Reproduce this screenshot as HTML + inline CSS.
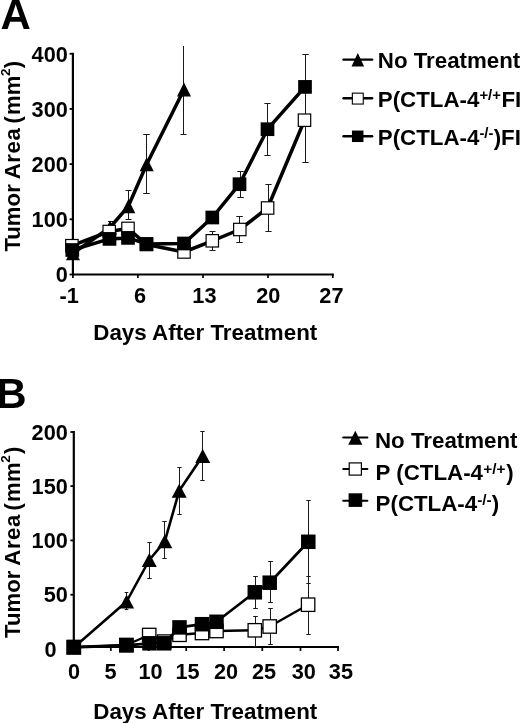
<!DOCTYPE html>
<html><head><meta charset="utf-8"><title>Figure</title>
<style>html,body{margin:0;padding:0;background:#fff;}svg{display:block;}text{fill:#000;}</style>
</head><body>
<svg width="520" height="723" viewBox="0 0 520 723" style="will-change:transform">
<rect x="0" y="0" width="520" height="723" fill="#fff"/>
<text x="0.40" y="29.00" font-size="42" text-anchor="start" font-family="Liberation Sans, sans-serif" font-weight="bold" >A</text>
<text x="-3.70" y="408.30" font-size="42" text-anchor="start" font-family="Liberation Sans, sans-serif" font-weight="bold" >B</text>
<line x1="72.90" y1="52.80" x2="72.90" y2="275.50" stroke="#000" stroke-width="2.2" stroke-linecap="butt"/>
<line x1="71.90" y1="274.50" x2="333.80" y2="274.50" stroke="#000" stroke-width="2.1" stroke-linecap="butt"/>
<line x1="69.60" y1="53.75" x2="72.90" y2="53.75" stroke="#000" stroke-width="1.8" stroke-linecap="butt"/>
<line x1="69.60" y1="108.90" x2="72.90" y2="108.90" stroke="#000" stroke-width="1.8" stroke-linecap="butt"/>
<line x1="69.60" y1="164.10" x2="72.90" y2="164.10" stroke="#000" stroke-width="1.8" stroke-linecap="butt"/>
<line x1="69.60" y1="219.30" x2="72.90" y2="219.30" stroke="#000" stroke-width="1.8" stroke-linecap="butt"/>
<line x1="69.60" y1="274.50" x2="72.90" y2="274.50" stroke="#000" stroke-width="1.8" stroke-linecap="butt"/>
<line x1="72.90" y1="274.50" x2="72.90" y2="278.00" stroke="#000" stroke-width="1.7" stroke-linecap="butt"/>
<line x1="137.90" y1="274.50" x2="137.90" y2="278.00" stroke="#000" stroke-width="1.7" stroke-linecap="butt"/>
<line x1="203.00" y1="274.50" x2="203.00" y2="278.00" stroke="#000" stroke-width="1.7" stroke-linecap="butt"/>
<line x1="268.00" y1="274.50" x2="268.00" y2="278.00" stroke="#000" stroke-width="1.7" stroke-linecap="butt"/>
<line x1="332.80" y1="274.50" x2="332.80" y2="278.00" stroke="#000" stroke-width="1.7" stroke-linecap="butt"/>
<text x="67.80" y="61.50" font-size="21.7" text-anchor="end" font-family="Liberation Sans, sans-serif" font-weight="bold" >400</text>
<text x="67.80" y="116.65" font-size="21.7" text-anchor="end" font-family="Liberation Sans, sans-serif" font-weight="bold" >300</text>
<text x="67.80" y="171.85" font-size="21.7" text-anchor="end" font-family="Liberation Sans, sans-serif" font-weight="bold" >200</text>
<text x="67.80" y="227.05" font-size="21.7" text-anchor="end" font-family="Liberation Sans, sans-serif" font-weight="bold" >100</text>
<text x="67.80" y="282.25" font-size="21.7" text-anchor="end" font-family="Liberation Sans, sans-serif" font-weight="bold" >0</text>
<text x="69.20" y="303.00" font-size="21.7" text-anchor="middle" font-family="Liberation Sans, sans-serif" font-weight="bold" >-1</text>
<text x="140.10" y="303.00" font-size="21.7" text-anchor="middle" font-family="Liberation Sans, sans-serif" font-weight="bold" >6</text>
<text x="204.40" y="303.00" font-size="21.7" text-anchor="middle" font-family="Liberation Sans, sans-serif" font-weight="bold" >13</text>
<text x="268.30" y="303.00" font-size="21.7" text-anchor="middle" font-family="Liberation Sans, sans-serif" font-weight="bold" >20</text>
<text x="331.40" y="303.00" font-size="21.7" text-anchor="middle" font-family="Liberation Sans, sans-serif" font-weight="bold" >27</text>
<text x="93.30" y="340.40" font-size="22.35" text-anchor="start" font-family="Liberation Sans, sans-serif" font-weight="bold" >Days After Treatment</text>
<text transform="translate(19.8,251.6) rotate(-90)" font-size="22.2" font-family="Liberation Sans, sans-serif" font-weight="bold">Tumor <tspan dx="-1.2" letter-spacing="0.55">Area</tspan><tspan dx="-2.0"> (</tspan><tspan dx="1.1">mm</tspan><tspan font-size="13.5" dy="-9.4" dx="-0.3">2</tspan><tspan dy="9.4">)</tspan></text>
<line x1="110.50" y1="221.00" x2="110.50" y2="235.00" stroke="#1a1a1a" stroke-width="1" stroke-linecap="butt"/>
<line x1="108.00" y1="221.50" x2="113.00" y2="221.50" stroke="#1a1a1a" stroke-width="1" stroke-linecap="butt"/>
<line x1="108.00" y1="234.50" x2="113.00" y2="234.50" stroke="#1a1a1a" stroke-width="1" stroke-linecap="butt"/>
<line x1="128.50" y1="190.00" x2="128.50" y2="220.00" stroke="#1a1a1a" stroke-width="1" stroke-linecap="butt"/>
<line x1="125.50" y1="190.50" x2="131.50" y2="190.50" stroke="#1a1a1a" stroke-width="1" stroke-linecap="butt"/>
<line x1="125.50" y1="219.50" x2="131.50" y2="219.50" stroke="#1a1a1a" stroke-width="1" stroke-linecap="butt"/>
<line x1="146.50" y1="134.00" x2="146.50" y2="194.00" stroke="#1a1a1a" stroke-width="1" stroke-linecap="butt"/>
<line x1="143.25" y1="134.50" x2="149.75" y2="134.50" stroke="#1a1a1a" stroke-width="1" stroke-linecap="butt"/>
<line x1="143.25" y1="193.50" x2="149.75" y2="193.50" stroke="#1a1a1a" stroke-width="1" stroke-linecap="butt"/>
<line x1="183.50" y1="46.00" x2="183.50" y2="135.00" stroke="#1a1a1a" stroke-width="1" stroke-linecap="butt"/>
<line x1="180.50" y1="134.50" x2="186.50" y2="134.50" stroke="#1a1a1a" stroke-width="1" stroke-linecap="butt"/>
<line x1="212.50" y1="231.00" x2="212.50" y2="251.00" stroke="#1a1a1a" stroke-width="1" stroke-linecap="butt"/>
<line x1="209.50" y1="231.50" x2="215.50" y2="231.50" stroke="#1a1a1a" stroke-width="1" stroke-linecap="butt"/>
<line x1="209.50" y1="250.50" x2="215.50" y2="250.50" stroke="#1a1a1a" stroke-width="1" stroke-linecap="butt"/>
<line x1="239.50" y1="216.00" x2="239.50" y2="243.00" stroke="#1a1a1a" stroke-width="1" stroke-linecap="butt"/>
<line x1="236.25" y1="216.50" x2="242.75" y2="216.50" stroke="#1a1a1a" stroke-width="1" stroke-linecap="butt"/>
<line x1="236.25" y1="242.50" x2="242.75" y2="242.50" stroke="#1a1a1a" stroke-width="1" stroke-linecap="butt"/>
<line x1="268.50" y1="184.00" x2="268.50" y2="232.00" stroke="#1a1a1a" stroke-width="1" stroke-linecap="butt"/>
<line x1="265.40" y1="184.50" x2="271.60" y2="184.50" stroke="#1a1a1a" stroke-width="1" stroke-linecap="butt"/>
<line x1="265.40" y1="231.50" x2="271.60" y2="231.50" stroke="#1a1a1a" stroke-width="1" stroke-linecap="butt"/>
<line x1="305.50" y1="81.00" x2="305.50" y2="163.00" stroke="#1a1a1a" stroke-width="1" stroke-linecap="butt"/>
<line x1="302.30" y1="162.50" x2="308.70" y2="162.50" stroke="#1a1a1a" stroke-width="1" stroke-linecap="butt"/>
<line x1="240.50" y1="171.00" x2="240.50" y2="198.00" stroke="#1a1a1a" stroke-width="1" stroke-linecap="butt"/>
<line x1="237.25" y1="171.50" x2="243.75" y2="171.50" stroke="#1a1a1a" stroke-width="1" stroke-linecap="butt"/>
<line x1="237.25" y1="197.50" x2="243.75" y2="197.50" stroke="#1a1a1a" stroke-width="1" stroke-linecap="butt"/>
<line x1="267.50" y1="103.00" x2="267.50" y2="156.00" stroke="#1a1a1a" stroke-width="1" stroke-linecap="butt"/>
<line x1="264.40" y1="103.50" x2="270.60" y2="103.50" stroke="#1a1a1a" stroke-width="1" stroke-linecap="butt"/>
<line x1="264.40" y1="155.50" x2="270.60" y2="155.50" stroke="#1a1a1a" stroke-width="1" stroke-linecap="butt"/>
<line x1="305.50" y1="54.00" x2="305.50" y2="120.00" stroke="#1a1a1a" stroke-width="1" stroke-linecap="butt"/>
<line x1="302.30" y1="54.50" x2="308.70" y2="54.50" stroke="#1a1a1a" stroke-width="1" stroke-linecap="butt"/>
<line x1="302.30" y1="119.50" x2="308.70" y2="119.50" stroke="#1a1a1a" stroke-width="1" stroke-linecap="butt"/>
<polyline points="73.00,253.20 110.00,227.50 128.30,206.30 146.70,164.20 184.00,89.50" fill="none" stroke="#000" stroke-width="3.5" stroke-linejoin="round"/>
<polygon points="73.00,246.20 80.00,260.20 66.00,260.20" fill="#000"/>
<polygon points="110.00,220.50 117.00,234.50 103.00,234.50" fill="#000"/>
<polygon points="128.30,199.30 135.30,213.30 121.30,213.30" fill="#000"/>
<polygon points="146.70,157.20 153.70,171.20 139.70,171.20" fill="#000"/>
<polygon points="184.00,82.50 191.00,96.50 177.00,96.50" fill="#000"/>
<polyline points="71.90,245.70 109.20,231.50 128.00,228.40 146.50,244.50 184.00,252.00 212.30,240.80 239.80,229.50 267.60,208.00 304.50,120.20" fill="none" stroke="#000" stroke-width="3.5" stroke-linejoin="round"/>
<rect x="65.70" y="239.50" width="12.40" height="12.40" fill="#fff" stroke="#000" stroke-width="1.2"/>
<rect x="103.00" y="225.30" width="12.40" height="12.40" fill="#fff" stroke="#000" stroke-width="1.2"/>
<rect x="121.80" y="222.20" width="12.40" height="12.40" fill="#fff" stroke="#000" stroke-width="1.2"/>
<rect x="140.30" y="238.30" width="12.40" height="12.40" fill="#fff" stroke="#000" stroke-width="1.2"/>
<rect x="177.80" y="245.80" width="12.40" height="12.40" fill="#fff" stroke="#000" stroke-width="1.2"/>
<rect x="206.10" y="234.60" width="12.40" height="12.40" fill="#fff" stroke="#000" stroke-width="1.2"/>
<rect x="233.60" y="223.30" width="12.40" height="12.40" fill="#fff" stroke="#000" stroke-width="1.2"/>
<rect x="261.40" y="201.80" width="12.40" height="12.40" fill="#fff" stroke="#000" stroke-width="1.2"/>
<rect x="298.30" y="114.00" width="12.40" height="12.40" fill="#fff" stroke="#000" stroke-width="1.2"/>
<polyline points="72.30,250.00 109.50,238.90 128.00,237.90 146.40,243.90 184.00,243.50 212.30,217.50 239.50,184.20 267.50,129.20 305.00,86.90" fill="none" stroke="#000" stroke-width="3.5" stroke-linejoin="round"/>
<rect x="65.45" y="243.15" width="13.7" height="13.7" fill="#000"/>
<rect x="102.65" y="232.05" width="13.7" height="13.7" fill="#000"/>
<rect x="121.15" y="231.05" width="13.7" height="13.7" fill="#000"/>
<rect x="139.55" y="237.05" width="13.7" height="13.7" fill="#000"/>
<rect x="177.15" y="236.65" width="13.7" height="13.7" fill="#000"/>
<rect x="205.45" y="210.65" width="13.7" height="13.7" fill="#000"/>
<rect x="232.65" y="177.35" width="13.7" height="13.7" fill="#000"/>
<rect x="260.65" y="122.35" width="13.7" height="13.7" fill="#000"/>
<rect x="298.15" y="80.05" width="13.7" height="13.7" fill="#000"/>
<line x1="343.50" y1="59.60" x2="372.10" y2="59.60" stroke="#000" stroke-width="2.4" stroke-linecap="round"/>
<line x1="343.50" y1="98.20" x2="372.10" y2="98.20" stroke="#000" stroke-width="2.4" stroke-linecap="round"/>
<line x1="343.50" y1="136.20" x2="372.10" y2="136.20" stroke="#000" stroke-width="2.4" stroke-linecap="round"/>
<polygon points="357.80,53.00 364.10,66.60 351.50,66.60" fill="#000"/>
<rect x="352.35" y="93.15" width="10.90" height="10.90" fill="#fff" stroke="#000" stroke-width="1.1"/>
<rect x="351.95" y="130.55" width="11.5" height="11.5" fill="#000"/>
<text x="377.80" y="67.70" font-size="22.3" text-anchor="start" font-family="Liberation Sans, sans-serif" font-weight="bold" >No Treatment</text>
<text x="377.80" y="106.80" font-size="22.3" text-anchor="start" font-family="Liberation Sans, sans-serif" font-weight="bold" >P(CTLA-4<tspan font-size="14.8" dy="-7">+/+</tspan><tspan dy="7" dx="0.6">FI</tspan></text>
<text x="377.80" y="144.60" font-size="22.3" text-anchor="start" font-family="Liberation Sans, sans-serif" font-weight="bold" >P(CTLA-4<tspan font-size="14.8" dy="-7">-/-</tspan><tspan dy="7" dx="0.3">)FI</tspan></text>
<line x1="73.80" y1="431.00" x2="73.80" y2="648.00" stroke="#000" stroke-width="2.2" stroke-linecap="butt"/>
<line x1="72.80" y1="647.00" x2="339.00" y2="647.00" stroke="#000" stroke-width="2.2" stroke-linecap="butt"/>
<line x1="70.40" y1="432.00" x2="73.80" y2="432.00" stroke="#000" stroke-width="1.8" stroke-linecap="butt"/>
<line x1="70.40" y1="486.10" x2="73.80" y2="486.10" stroke="#000" stroke-width="1.8" stroke-linecap="butt"/>
<line x1="70.40" y1="540.40" x2="73.80" y2="540.40" stroke="#000" stroke-width="1.8" stroke-linecap="butt"/>
<line x1="70.40" y1="594.70" x2="73.80" y2="594.70" stroke="#000" stroke-width="1.8" stroke-linecap="butt"/>
<line x1="70.40" y1="647.00" x2="73.80" y2="647.00" stroke="#000" stroke-width="1.8" stroke-linecap="butt"/>
<line x1="73.80" y1="647.00" x2="73.80" y2="651.00" stroke="#000" stroke-width="1.7" stroke-linecap="butt"/>
<line x1="110.80" y1="647.00" x2="110.80" y2="651.00" stroke="#000" stroke-width="1.7" stroke-linecap="butt"/>
<line x1="148.60" y1="647.00" x2="148.60" y2="651.00" stroke="#000" stroke-width="1.7" stroke-linecap="butt"/>
<line x1="186.20" y1="647.00" x2="186.20" y2="651.00" stroke="#000" stroke-width="1.7" stroke-linecap="butt"/>
<line x1="224.10" y1="647.00" x2="224.10" y2="651.00" stroke="#000" stroke-width="1.7" stroke-linecap="butt"/>
<line x1="262.30" y1="647.00" x2="262.30" y2="651.00" stroke="#000" stroke-width="1.7" stroke-linecap="butt"/>
<line x1="300.50" y1="647.00" x2="300.50" y2="651.00" stroke="#000" stroke-width="1.7" stroke-linecap="butt"/>
<line x1="338.00" y1="647.00" x2="338.00" y2="651.00" stroke="#000" stroke-width="1.7" stroke-linecap="butt"/>
<text x="67.80" y="439.75" font-size="21.7" text-anchor="end" font-family="Liberation Sans, sans-serif" font-weight="bold" >200</text>
<text x="67.80" y="493.85" font-size="21.7" text-anchor="end" font-family="Liberation Sans, sans-serif" font-weight="bold" >150</text>
<text x="67.80" y="548.15" font-size="21.7" text-anchor="end" font-family="Liberation Sans, sans-serif" font-weight="bold" >100</text>
<text x="67.80" y="602.45" font-size="21.7" text-anchor="end" font-family="Liberation Sans, sans-serif" font-weight="bold" >50</text>
<text x="56.50" y="656.60" font-size="21.7" text-anchor="end" font-family="Liberation Sans, sans-serif" font-weight="bold" >0</text>
<text x="74.00" y="678.60" font-size="21.7" text-anchor="middle" font-family="Liberation Sans, sans-serif" font-weight="bold" >0</text>
<text x="110.50" y="678.60" font-size="21.7" text-anchor="middle" font-family="Liberation Sans, sans-serif" font-weight="bold" >5</text>
<text x="150.50" y="678.60" font-size="21.7" text-anchor="middle" font-family="Liberation Sans, sans-serif" font-weight="bold" >10</text>
<text x="187.60" y="678.60" font-size="21.7" text-anchor="middle" font-family="Liberation Sans, sans-serif" font-weight="bold" >15</text>
<text x="226.00" y="678.60" font-size="21.7" text-anchor="middle" font-family="Liberation Sans, sans-serif" font-weight="bold" >20</text>
<text x="264.00" y="678.60" font-size="21.7" text-anchor="middle" font-family="Liberation Sans, sans-serif" font-weight="bold" >25</text>
<text x="303.70" y="678.60" font-size="21.7" text-anchor="middle" font-family="Liberation Sans, sans-serif" font-weight="bold" >30</text>
<text x="340.90" y="678.60" font-size="21.7" text-anchor="middle" font-family="Liberation Sans, sans-serif" font-weight="bold" >35</text>
<text x="93.30" y="718.60" font-size="22.35" text-anchor="start" font-family="Liberation Sans, sans-serif" font-weight="bold" >Days After Treatment</text>
<text transform="translate(19.8,638) rotate(-90)" font-size="22.2" font-family="Liberation Sans, sans-serif" font-weight="bold">Tumor <tspan dx="-1.2" letter-spacing="0.55">Area</tspan><tspan dx="-2.5"> (</tspan><tspan dx="1.1" letter-spacing="0.2">mm</tspan><tspan font-size="13.5" dy="-9.4" dx="-0.6">2</tspan><tspan dy="9.4" dx="1.2">)</tspan></text>
<line x1="126.50" y1="592.00" x2="126.50" y2="610.00" stroke="#1a1a1a" stroke-width="1" stroke-linecap="butt"/>
<line x1="124.70" y1="592.50" x2="128.30" y2="592.50" stroke="#1a1a1a" stroke-width="1" stroke-linecap="butt"/>
<line x1="124.70" y1="609.50" x2="128.30" y2="609.50" stroke="#1a1a1a" stroke-width="1" stroke-linecap="butt"/>
<line x1="149.50" y1="542.00" x2="149.50" y2="579.00" stroke="#1a1a1a" stroke-width="1" stroke-linecap="butt"/>
<line x1="147.30" y1="542.50" x2="151.70" y2="542.50" stroke="#1a1a1a" stroke-width="1" stroke-linecap="butt"/>
<line x1="147.30" y1="578.50" x2="151.70" y2="578.50" stroke="#1a1a1a" stroke-width="1" stroke-linecap="butt"/>
<line x1="164.50" y1="521.00" x2="164.50" y2="559.00" stroke="#1a1a1a" stroke-width="1" stroke-linecap="butt"/>
<line x1="162.30" y1="521.50" x2="166.70" y2="521.50" stroke="#1a1a1a" stroke-width="1" stroke-linecap="butt"/>
<line x1="162.30" y1="558.50" x2="166.70" y2="558.50" stroke="#1a1a1a" stroke-width="1" stroke-linecap="butt"/>
<line x1="179.50" y1="467.00" x2="179.50" y2="515.00" stroke="#1a1a1a" stroke-width="1" stroke-linecap="butt"/>
<line x1="177.30" y1="467.50" x2="181.70" y2="467.50" stroke="#1a1a1a" stroke-width="1" stroke-linecap="butt"/>
<line x1="177.30" y1="514.50" x2="181.70" y2="514.50" stroke="#1a1a1a" stroke-width="1" stroke-linecap="butt"/>
<line x1="202.50" y1="431.00" x2="202.50" y2="481.00" stroke="#1a1a1a" stroke-width="1" stroke-linecap="butt"/>
<line x1="200.30" y1="431.50" x2="204.70" y2="431.50" stroke="#1a1a1a" stroke-width="1" stroke-linecap="butt"/>
<line x1="200.30" y1="480.50" x2="204.70" y2="480.50" stroke="#1a1a1a" stroke-width="1" stroke-linecap="butt"/>
<line x1="255.50" y1="616.00" x2="255.50" y2="647.00" stroke="#1a1a1a" stroke-width="1" stroke-linecap="butt"/>
<line x1="253.20" y1="616.50" x2="257.80" y2="616.50" stroke="#1a1a1a" stroke-width="1" stroke-linecap="butt"/>
<line x1="253.20" y1="646.50" x2="257.80" y2="646.50" stroke="#1a1a1a" stroke-width="1" stroke-linecap="butt"/>
<line x1="270.50" y1="608.00" x2="270.50" y2="645.00" stroke="#1a1a1a" stroke-width="1" stroke-linecap="butt"/>
<line x1="268.20" y1="608.50" x2="272.80" y2="608.50" stroke="#1a1a1a" stroke-width="1" stroke-linecap="butt"/>
<line x1="268.20" y1="644.50" x2="272.80" y2="644.50" stroke="#1a1a1a" stroke-width="1" stroke-linecap="butt"/>
<line x1="308.50" y1="576.00" x2="308.50" y2="635.00" stroke="#1a1a1a" stroke-width="1" stroke-linecap="butt"/>
<line x1="306.30" y1="576.50" x2="310.70" y2="576.50" stroke="#1a1a1a" stroke-width="1" stroke-linecap="butt"/>
<line x1="306.30" y1="634.50" x2="310.70" y2="634.50" stroke="#1a1a1a" stroke-width="1" stroke-linecap="butt"/>
<line x1="255.50" y1="576.00" x2="255.50" y2="609.00" stroke="#1a1a1a" stroke-width="1" stroke-linecap="butt"/>
<line x1="253.20" y1="576.50" x2="257.80" y2="576.50" stroke="#1a1a1a" stroke-width="1" stroke-linecap="butt"/>
<line x1="253.20" y1="608.50" x2="257.80" y2="608.50" stroke="#1a1a1a" stroke-width="1" stroke-linecap="butt"/>
<line x1="270.50" y1="561.00" x2="270.50" y2="603.00" stroke="#1a1a1a" stroke-width="1" stroke-linecap="butt"/>
<line x1="268.10" y1="561.50" x2="272.90" y2="561.50" stroke="#1a1a1a" stroke-width="1" stroke-linecap="butt"/>
<line x1="268.10" y1="602.50" x2="272.90" y2="602.50" stroke="#1a1a1a" stroke-width="1" stroke-linecap="butt"/>
<line x1="308.50" y1="500.00" x2="308.50" y2="584.00" stroke="#1a1a1a" stroke-width="1" stroke-linecap="butt"/>
<line x1="306.30" y1="500.50" x2="310.70" y2="500.50" stroke="#1a1a1a" stroke-width="1" stroke-linecap="butt"/>
<line x1="306.30" y1="583.50" x2="310.70" y2="583.50" stroke="#1a1a1a" stroke-width="1" stroke-linecap="butt"/>
<polyline points="73.80,647.50 126.60,601.50 149.30,560.00 164.80,541.30 179.20,490.80 202.70,456.00" fill="none" stroke="#000" stroke-width="2.6" stroke-linejoin="round"/>
<polygon points="73.80,640.50 81.30,654.50 66.30,654.50" fill="#000"/>
<polygon points="126.60,594.50 134.10,608.50 119.10,608.50" fill="#000"/>
<polygon points="149.30,553.00 156.80,567.00 141.80,567.00" fill="#000"/>
<polygon points="164.80,534.30 172.30,548.30 157.30,548.30" fill="#000"/>
<polygon points="179.20,483.80 186.70,497.80 171.70,497.80" fill="#000"/>
<polygon points="202.70,449.00 210.20,463.00 195.20,463.00" fill="#000"/>
<polyline points="73.80,647.00 126.40,645.00 149.20,635.00 164.20,641.60 179.50,634.80 202.00,633.00 216.50,631.00 254.80,630.30 269.70,626.50 308.10,604.70" fill="none" stroke="#000" stroke-width="2.4" stroke-linejoin="round"/>
<rect x="67.10" y="640.30" width="13.40" height="13.40" fill="#fff" stroke="#000" stroke-width="1.3"/>
<rect x="119.70" y="638.30" width="13.40" height="13.40" fill="#fff" stroke="#000" stroke-width="1.3"/>
<rect x="142.50" y="628.30" width="13.40" height="13.40" fill="#fff" stroke="#000" stroke-width="1.3"/>
<rect x="157.50" y="634.90" width="13.40" height="13.40" fill="#fff" stroke="#000" stroke-width="1.3"/>
<rect x="172.80" y="628.10" width="13.40" height="13.40" fill="#fff" stroke="#000" stroke-width="1.3"/>
<rect x="195.30" y="626.30" width="13.40" height="13.40" fill="#fff" stroke="#000" stroke-width="1.3"/>
<rect x="209.80" y="624.30" width="13.40" height="13.40" fill="#fff" stroke="#000" stroke-width="1.3"/>
<rect x="248.10" y="623.60" width="13.40" height="13.40" fill="#fff" stroke="#000" stroke-width="1.3"/>
<rect x="263.00" y="619.80" width="13.40" height="13.40" fill="#fff" stroke="#000" stroke-width="1.3"/>
<rect x="301.40" y="598.00" width="13.40" height="13.40" fill="#fff" stroke="#000" stroke-width="1.3"/>
<polyline points="73.80,647.30 126.40,645.30 149.50,643.30 164.20,643.30 179.50,627.40 202.00,624.20 216.50,621.80 254.80,592.30 269.70,582.70 308.30,541.80" fill="none" stroke="#000" stroke-width="2.7" stroke-linejoin="round"/>
<rect x="66.55" y="640.05" width="14.5" height="14.5" fill="#000"/>
<rect x="119.15" y="638.05" width="14.5" height="14.5" fill="#000"/>
<rect x="142.25" y="636.05" width="14.5" height="14.5" fill="#000"/>
<rect x="156.95" y="636.05" width="14.5" height="14.5" fill="#000"/>
<rect x="172.25" y="620.15" width="14.5" height="14.5" fill="#000"/>
<rect x="194.75" y="616.95" width="14.5" height="14.5" fill="#000"/>
<rect x="209.25" y="614.55" width="14.5" height="14.5" fill="#000"/>
<rect x="247.55" y="585.05" width="14.5" height="14.5" fill="#000"/>
<rect x="262.45" y="575.45" width="14.5" height="14.5" fill="#000"/>
<rect x="301.05" y="534.55" width="14.5" height="14.5" fill="#000"/>
<line x1="343.20" y1="437.60" x2="367.40" y2="437.60" stroke="#000" stroke-width="2.0" stroke-linecap="round"/>
<line x1="343.20" y1="468.90" x2="367.40" y2="468.90" stroke="#000" stroke-width="2.0" stroke-linecap="round"/>
<line x1="343.20" y1="500.70" x2="367.40" y2="500.70" stroke="#000" stroke-width="2.0" stroke-linecap="round"/>
<polygon points="355.30,430.70 362.40,444.70 348.20,444.70" fill="#000"/>
<rect x="349.20" y="462.90" width="12.20" height="12.20" fill="#fff" stroke="#000" stroke-width="1.2"/>
<rect x="348.60" y="493.30" width="13.6" height="13.6" fill="#000"/>
<text x="375.00" y="448.20" font-size="22.3" text-anchor="start" font-family="Liberation Sans, sans-serif" font-weight="bold" >No Treatment</text>
<text x="375.60" y="479.80" font-size="22.3" text-anchor="start" font-family="Liberation Sans, sans-serif" font-weight="bold" >P (CTLA-4<tspan font-size="15.4" dy="-5.7" dx="0.4">+/+</tspan><tspan dy="5.7" dx="0.5">)</tspan></text>
<text x="375.60" y="511.00" font-size="22.3" text-anchor="start" font-family="Liberation Sans, sans-serif" font-weight="bold" >P(CTLA-4<tspan font-size="15.4" dy="-5.7">-/-</tspan><tspan dy="5.7">)</tspan></text>
</svg></body></html>
